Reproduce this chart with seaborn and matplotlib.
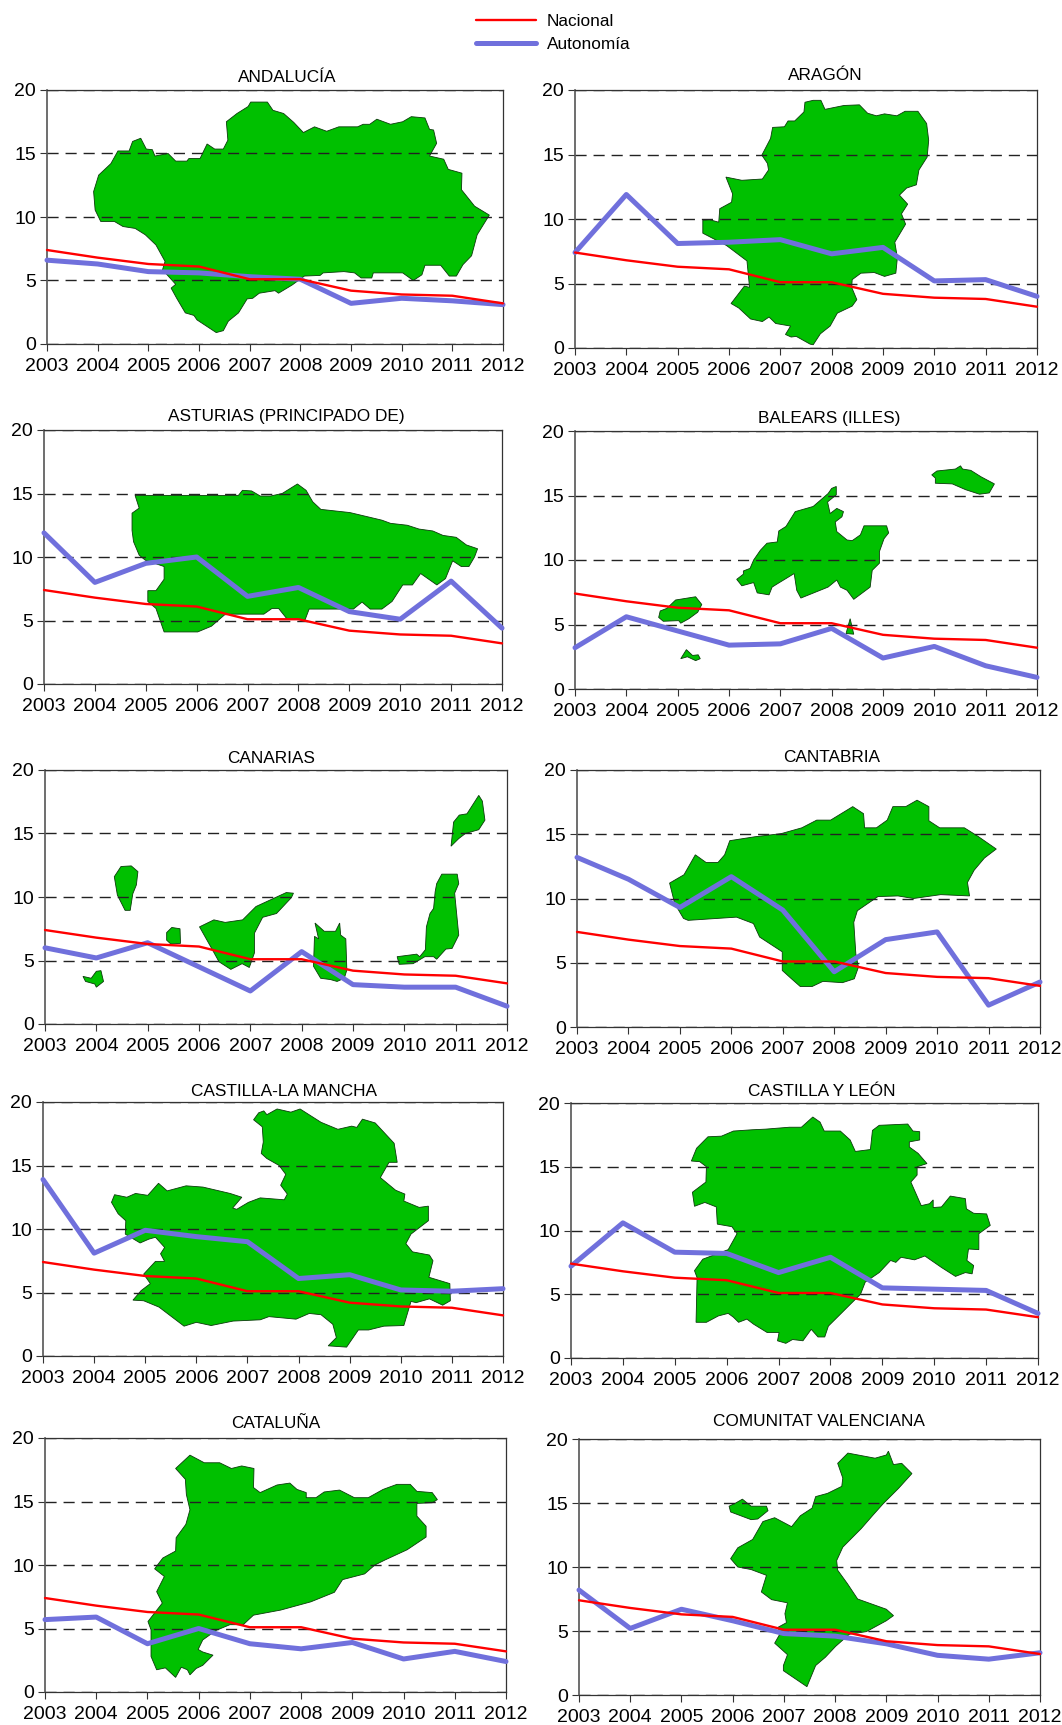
import matplotlib
matplotlib.use('Agg')
import matplotlib.pyplot as plt
from matplotlib.lines import Line2D
import seaborn as sns

sns.set_theme(style="white")
plt.rcParams['font.family'] = ['Liberation Sans', 'DejaVu Sans']

YEARS = [2003, 2004, 2005, 2006, 2007, 2008, 2009, 2010, 2011, 2012]
NACIONAL = [7.4, 6.8, 6.3, 6.1, 5.1, 5.1, 4.2, 3.9, 3.8, 3.2]

AND_VALUES = [6.6, 6.3, 5.7, 5.6, 5.3, 5.1, 3.2, 3.6, 3.4, 3.1]
ARA_VALUES = [7.4, 11.9, 8.1, 8.2, 8.4, 7.3, 7.8, 5.2, 5.3, 4.0]
AST_VALUES = [11.9, 8.0, 9.5, 10.0, 6.9, 7.6, 5.7, 5.1, 8.1, 4.4]
BAL_VALUES = [3.2, 5.6, 4.5, 3.4, 3.5, 4.7, 2.4, 3.3, 1.8, 0.9]
CAN_VALUES = [6.0, 5.2, 6.4, 4.5, 2.6, 5.7, 3.1, 2.9, 2.9, 1.4]
CNT_VALUES = [13.2, 11.5, 9.3, 11.7, 9.1, 4.3, 6.8, 7.4, 1.7, 3.5]
CLM_VALUES = [13.9, 8.1, 9.9, 9.4, 9.0, 6.1, 6.4, 5.2, 5.1, 5.3]
CYL_VALUES = [7.2, 10.6, 8.3, 8.2, 6.7, 7.9, 5.5, 5.4, 5.3, 3.5]
CAT_VALUES = [5.7, 5.9, 3.8, 5.0, 3.8, 3.4, 3.9, 2.6, 3.2, 2.4]
VAL_VALUES = [8.2, 5.2, 6.7, 5.8, 4.8, 4.6, 4.0, 3.1, 2.8, 3.3]

# map outlines, as (year, value) pairs on each panel's own axes
AND_MAP = [[(2003.92,12.0),(2004.02,13.3),(2004.26,14.2),(2004.40,15.2),(2004.62,15.2),(2004.69,15.95),(2004.85,16.2),(2004.96,15.35),(2005.08,15.3),(2005.13,14.8),(2005.39,15.0),(2005.54,14.4),(2005.76,14.4),(2005.8,14.6),(2006.02,14.6),(2006.16,15.75),(2006.31,15.35),(2006.48,15.35),(2006.57,16.05),(2006.54,17.5),(2006.75,18.15),(2006.97,18.7),(2007.02,19.05),(2007.35,19.05),(2007.46,18.4),(2007.67,18.15),(2007.87,17.45),(2008.06,16.65),(2008.28,17.1),(2008.52,16.75),(2008.76,17.1),(2009.13,17.1),(2009.24,17.3),(2009.37,17.3),(2009.51,17.7),(2009.78,17.3),(2010.02,17.5),(2010.19,17.9),(2010.46,17.8),(2010.55,16.9),(2010.63,16.85),(2010.69,15.8),(2010.55,14.8),(2010.83,14.55),(2010.92,13.75),(2011.19,13.45),(2011.18,12.15),(2011.44,10.85),(2011.73,10.15),(2011.49,8.6),(2011.38,6.95),(2011.21,6.25),(2011.08,5.35),(2010.94,5.35),(2010.77,6.2),(2010.46,6.2),(2010.4,5.45),(2010.23,5.0),(2010.02,5.6),(2009.44,5.6),(2009.41,5.2),(2009.2,5.2),(2009.07,5.6),(2008.86,5.7),(2008.45,5.6),(2008.39,5.4),(2008.08,5.35),(2007.84,4.65),(2007.57,4.0),(2007.5,4.2),(2007.19,4.0),(2007.06,3.6),(2006.95,3.55),(2006.78,2.45),(2006.58,1.8),(2006.48,1.05),(2006.34,0.9),(2005.96,1.9),(2005.9,2.25),(2005.73,2.45),(2005.56,3.6),(2005.45,4.4),(2005.54,4.7),(2005.28,5.85),(2005.33,6.5),(2005.15,7.8),(2004.94,8.6),(2004.74,9.1),(2004.5,9.25),(2004.33,9.65),(2004.06,9.65),(2003.95,10.55)]]

ARA_MAP = [[(2005.49,9.9),(2005.62,9.95),(2005.8,9.75),(2005.82,10.8),(2006.05,11.3),(2006.07,11.95),(2005.94,13.25),(2006.25,13.0),(2006.65,13.1),(2006.77,13.8),(2006.75,14.3),(2006.64,14.95),(2006.81,16.25),(2006.85,17.1),(2007.08,17.15),(2007.15,17.6),(2007.28,17.6),(2007.46,18.3),(2007.48,19.05),(2007.64,19.2),(2007.79,19.2),(2007.87,18.5),(2008.24,18.8),(2008.54,18.85),(2008.7,18.2),(2008.87,18.0),(2009.03,18.15),(2009.27,18.0),(2009.43,18.35),(2009.68,18.35),(2009.85,17.4),(2009.89,16.1),(2009.86,14.8),(2009.7,13.8),(2009.65,12.65),(2009.46,12.4),(2009.32,11.85),(2009.48,11.15),(2009.36,10.4),(2009.44,9.6),(2009.23,8.2),(2009.28,7.0),(2009.25,5.8),(2009.03,5.55),(2008.83,5.85),(2008.57,5.8),(2008.4,5.3),(2008.39,4.7),(2008.49,3.75),(2008.4,3.25),(2008.11,2.7),(2007.97,1.7),(2007.78,1.1),(2007.64,0.25),(2007.58,0.3),(2007.31,0.9),(2007.21,0.85),(2007.1,1.05),(2007.2,1.7),(2006.91,1.9),(2006.78,2.4),(2006.65,2.05),(2006.42,2.25),(2006.19,3.1),(2006.04,3.45),(2006.3,4.8),(2006.4,4.7),(2006.35,6.75),(2005.95,7.95),(2005.49,8.9)]]

AST_MAP = [[(2004.79,14.85),(2006.82,14.85),(2006.9,15.25),(2007.08,15.2),(2007.25,14.8),(2007.45,14.8),(2007.68,15.0),(2007.98,15.75),(2008.15,15.25),(2008.28,14.35),(2008.44,13.75),(2009.01,13.5),(2009.64,12.9),(2009.81,12.65),(2010.14,12.5),(2010.37,12.2),(2010.64,12.05),(2010.84,11.7),(2011.1,11.55),(2011.3,10.95),(2011.52,10.65),(2011.46,10.0),(2011.35,9.25),(2011.2,9.25),(2011.03,9.7),(2010.89,8.3),(2010.72,7.8),(2010.4,8.7),(2010.24,7.8),(2010.05,7.8),(2009.84,6.5),(2009.64,5.9),(2009.41,5.9),(2009.25,6.45),(2009.08,5.9),(2008.21,5.9),(2008.13,5.05),(2007.78,5.1),(2007.61,5.95),(2007.48,5.95),(2007.32,5.5),(2006.72,5.5),(2006.55,5.45),(2006.29,4.55),(2006.02,4.1),(2005.36,4.1),(2005.2,5.95),(2005.04,6.5),(2005.04,7.35),(2005.2,7.35),(2005.36,8.25),(2005.36,9.25),(2004.99,9.75),(2004.87,10.15),(2004.76,11.2),(2004.73,12.1),(2004.73,13.45),(2004.87,13.85)]]

BAL_MAP = [
    [(2006.15,8.5),(2006.28,8.9),(2006.28,9.15),(2006.41,9.35),(2006.48,10.0),(2006.61,10.75),(2006.74,11.3),(2006.94,11.4),(2006.97,12.25),(2007.11,12.6),(2007.29,13.75),(2007.64,14.15),(2007.93,15.15),(2008.0,15.55),(2008.09,15.7),(2008.09,15.05),(2007.92,14.5),(2007.97,13.6),(2008.1,14.0),(2008.23,13.75),(2008.2,13.35),(2008.07,12.95),(2008.1,12.2),(2008.3,11.55),(2008.4,11.5),(2008.56,11.95),(2008.63,12.65),(2009.07,12.65),(2009.11,12.1),(2009.02,11.65),(2008.93,10.65),(2008.93,9.75),(2008.79,9.2),(2008.75,7.9),(2008.43,6.95),(2008.3,7.65),(2008.17,7.9),(2008.1,8.45),(2007.93,7.9),(2007.4,7.05),(2007.32,7.65),(2007.27,8.95),(2006.94,8.15),(2006.84,7.9),(2006.78,7.3),(2006.55,7.45),(2006.48,8.25),(2006.25,8.0)],
    [(2009.95,16.6),(2010.05,16.9),(2010.41,17.05),(2010.51,17.3),(2010.55,17.05),(2010.71,16.95),(2010.91,16.45),(2011.17,15.9),(2011.07,15.2),(2010.88,15.1),(2010.61,15.45),(2010.35,15.9),(2010.02,15.95),(2010.02,16.35)],
    [(2004.63,5.55),(2004.66,6.05),(2004.79,6.25),(2004.96,6.9),(2005.35,7.15),(2005.47,6.55),(2005.39,5.95),(2005.22,5.45),(2005.06,5.1),(2005.02,5.3),(2004.72,5.25)],
    [(2005.06,2.35),(2005.17,3.05),(2005.29,2.6),(2005.4,2.65),(2005.44,2.35),(2005.35,2.2),(2005.19,2.5)],
    [(2008.28,4.3),(2008.36,5.45),(2008.43,4.25)],
]

CAN_MAP = [
    [(2010.91,14.0),(2010.96,15.9),(2011.07,16.45),(2011.22,16.55),(2011.45,18.0),(2011.52,17.55),(2011.57,16.05),(2011.45,15.3),(2011.19,15.0),(2011.06,14.6)],
    [(2004.35,11.6),(2004.48,12.4),(2004.68,12.45),(2004.81,12.0),(2004.78,10.95),(2004.71,10.25),(2004.66,8.95),(2004.56,8.95),(2004.41,10.15)],
    [(2006.01,7.65),(2006.29,8.2),(2006.51,8.0),(2006.85,8.2),(2007.11,9.25),(2007.7,10.35),(2007.84,10.3),(2007.8,9.95),(2007.51,8.7),(2007.24,8.4),(2007.08,7.15),(2007.08,5.6),(2006.98,4.45),(2006.84,4.75),(2006.62,4.3),(2006.39,4.9),(2006.26,5.85)],
    [(2005.37,7.2),(2005.47,7.6),(2005.63,7.5),(2005.64,6.35),(2005.45,6.3),(2005.37,6.6)],
    [(2003.74,3.75),(2003.9,3.6),(2004.0,4.15),(2004.09,4.2),(2004.14,3.35),(2004.0,2.9),(2003.97,3.15),(2003.79,3.35)],
    [(2008.26,7.95),(2008.44,7.3),(2008.66,7.3),(2008.74,7.95),(2008.76,7.0),(2008.86,6.7),(2008.88,4.25),(2008.83,3.6),(2008.69,3.35),(2008.56,3.5),(2008.37,3.6),(2008.23,4.55),(2008.25,6.9),(2008.33,6.7)],
    [(2009.86,5.3),(2010.24,5.5),(2010.3,5.3),(2010.41,5.85),(2010.43,7.65),(2010.5,8.7),(2010.57,9.1),(2010.6,10.4),(2010.63,11.05),(2010.73,11.8),(2011.03,11.8),(2011.06,11.05),(2010.98,10.3),(2011.06,7.0),(2010.93,5.95),(2010.81,5.9),(2010.63,5.1),(2010.57,5.3),(2010.4,5.3),(2010.17,4.75),(2009.9,4.7)],
]

CNT_MAP = [[(2004.8,11.2),(2005.08,11.85),(2005.3,13.4),(2005.51,12.8),(2005.74,12.8),(2005.87,13.4),(2005.97,14.5),(2006.45,14.8),(2006.97,15.05),(2007.37,15.5),(2007.66,16.1),(2007.93,16.1),(2008.36,17.15),(2008.57,16.6),(2008.59,15.5),(2008.82,15.5),(2009.03,16.1),(2009.14,17.15),(2009.39,17.15),(2009.61,17.65),(2009.84,17.15),(2009.84,16.05),(2010.05,15.5),(2010.53,15.5),(2010.79,14.85),(2011.15,13.85),(2010.92,13.15),(2010.72,12.2),(2010.59,11.25),(2010.63,10.2),(2010.07,10.3),(2009.54,10.0),(2009.24,10.2),(2008.85,10.15),(2008.45,9.05),(2008.38,8.15),(2008.42,5.7),(2008.47,4.65),(2008.39,3.75),(2008.16,3.45),(2007.78,3.55),(2007.57,3.15),(2007.34,3.15),(2007.17,3.75),(2006.99,4.4),(2006.99,5.85),(2006.55,7.0),(2006.43,8.05),(2006.1,8.55),(2005.16,8.3),(2005.07,8.45),(2004.9,9.6)]]

CLM_MAP = [[(2007.12,18.6),(2007.22,19.15),(2007.32,19.3),(2007.38,19.0),(2007.58,19.45),(2007.85,19.2),(2008.03,19.45),(2008.44,18.4),(2008.77,17.85),(2009.04,18.1),(2009.14,18.0),(2009.25,18.65),(2009.5,18.35),(2009.87,16.75),(2009.93,15.25),(2009.77,15.25),(2009.6,14.05),(2009.9,13.05),(2010.08,12.75),(2010.06,12.2),(2010.36,11.7),(2010.54,11.8),(2010.54,10.65),(2010.2,9.6),(2010.1,8.85),(2010.23,8.2),(2010.56,7.95),(2010.63,7.5),(2010.55,6.2),(2010.96,5.7),(2010.97,4.35),(2010.82,4.0),(2010.56,4.5),(2010.3,4.2),(2010.2,4.3),(2010.06,2.4),(2009.67,2.35),(2009.37,2.05),(2009.17,2.05),(2008.94,0.7),(2008.58,0.8),(2008.74,1.45),(2008.67,2.5),(2008.44,3.25),(2008.21,3.35),(2007.95,2.9),(2007.42,3.1),(2007.25,2.85),(2006.72,2.75),(2006.29,2.4),(2006.0,2.65),(2005.76,2.35),(2005.27,3.85),(2004.97,4.35),(2004.76,4.4),(2004.92,5.15),(2005.1,5.7),(2004.97,6.45),(2005.2,7.45),(2005.38,7.45),(2005.3,8.05),(2005.38,8.55),(2005.2,9.35),(2005.07,9.2),(2004.9,8.9),(2004.61,9.6),(2004.62,10.65),(2004.47,11.2),(2004.34,12.1),(2004.4,12.7),(2004.64,12.5),(2004.81,12.8),(2005.05,12.65),(2005.26,13.6),(2005.43,13.0),(2005.8,13.4),(2006.13,13.3),(2006.66,12.8),(2006.89,12.5),(2006.71,11.65),(2006.79,11.55),(2007.02,12.1),(2007.25,12.45),(2007.72,12.3),(2007.78,12.75),(2007.65,13.45),(2007.75,14.3),(2007.62,15.0),(2007.38,15.55),(2007.27,15.95),(2007.31,16.85),(2007.29,18.05)]]

CYL_MAP = [[(2005.32,15.45),(2005.42,16.45),(2005.64,17.35),(2005.9,17.4),(2006.13,17.8),(2006.49,17.9),(2006.75,17.95),(2007.21,18.1),(2007.44,18.1),(2007.66,18.9),(2007.8,18.5),(2007.88,17.8),(2008.19,17.8),(2008.38,17.1),(2008.48,16.2),(2008.77,16.35),(2008.81,17.85),(2008.94,18.25),(2009.49,18.35),(2009.59,17.8),(2009.72,17.75),(2009.72,17.1),(2009.52,16.95),(2009.52,16.55),(2009.69,16.05),(2009.86,15.25),(2009.67,15.0),(2009.67,14.35),(2009.55,13.8),(2009.75,11.95),(2009.91,12.1),(2009.98,12.4),(2009.98,11.8),(2010.14,11.85),(2010.31,12.7),(2010.6,12.5),(2010.62,11.7),(2010.76,11.35),(2011.01,11.3),(2011.08,10.4),(2010.86,9.75),(2010.86,8.5),(2010.66,8.55),(2010.63,7.65),(2010.76,7.25),(2010.73,6.6),(2010.6,6.7),(2010.41,6.4),(2010.14,7.1),(2009.82,8.0),(2009.62,7.7),(2009.36,7.9),(2009.26,7.5),(2009.16,7.65),(2008.94,6.7),(2008.67,5.95),(2008.58,5.0),(2008.38,4.2),(2008.22,3.55),(2007.96,2.5),(2007.89,1.65),(2007.76,1.65),(2007.63,2.25),(2007.47,1.35),(2007.27,1.45),(2007.14,1.15),(2006.98,1.35),(2007.01,2.0),(2006.78,2.0),(2006.52,2.65),(2006.39,3.05),(2006.23,2.8),(2006.13,3.2),(2006.03,3.5),(2005.84,3.3),(2005.61,2.8),(2005.41,2.8),(2005.43,6.3),(2005.38,6.85),(2005.54,7.75),(2006.03,8.5),(2006.2,9.75),(2006.1,10.3),(2005.82,10.5),(2005.8,11.85),(2005.58,12.2),(2005.38,11.9),(2005.34,13.0),(2005.6,13.8),(2005.61,15.0),(2005.48,15.4)]]

CAT_MAP = [[(2005.55,17.6),(2005.83,18.65),(2006.11,18.05),(2006.41,18.05),(2006.64,17.6),(2006.84,17.8),(2007.08,17.6),(2007.07,16.1),(2007.2,15.7),(2007.53,16.3),(2007.78,16.45),(2007.92,15.95),(2008.1,15.7),(2008.1,15.3),(2008.29,15.3),(2008.45,15.75),(2008.75,15.9),(2009.04,15.3),(2009.31,15.3),(2009.6,15.95),(2009.87,16.35),(2010.13,16.35),(2010.26,15.8),(2010.56,15.7),(2010.66,15.15),(2010.56,14.9),(2010.26,14.85),(2010.26,13.85),(2010.44,13.05),(2010.44,12.2),(2010.07,11.2),(2009.64,10.4),(2009.44,10.0),(2009.24,9.3),(2008.81,8.85),(2008.65,7.85),(2008.19,7.1),(2007.6,6.45),(2007.07,6.05),(2006.87,5.3),(2006.61,5.3),(2006.34,4.85),(2006.08,4.1),(2005.99,3.35),(2006.08,3.15),(2006.28,2.9),(2006.08,2.1),(2005.95,1.85),(2005.83,1.35),(2005.78,1.75),(2005.66,1.95),(2005.55,1.15),(2005.35,1.9),(2005.18,1.75),(2005.07,2.8),(2005.07,4.9),(2005.01,5.55),(2005.29,7.0),(2005.18,7.9),(2005.33,9.1),(2005.14,9.7),(2005.3,10.55),(2005.55,11.1),(2005.56,12.15),(2005.75,13.2),(2005.83,14.35),(2005.76,15.55),(2005.74,16.75)]]

VAL_MAP = [
    [(2005.96,10.65),(2006.1,11.5),(2006.39,12.15),(2006.59,13.55),(2006.82,13.85),(2007.15,13.15),(2007.32,14.0),(2007.55,14.6),(2007.62,15.5),(2007.85,15.75),(2008.13,16.3),(2008.15,16.95),(2008.05,18.1),(2008.25,18.9),(2008.78,18.5),(2009.0,18.75),(2009.04,19.05),(2009.14,18.0),(2009.3,18.1),(2009.5,17.3),(2009.24,16.15),(2008.94,14.95),(2008.75,14.1),(2008.51,13.0),(2008.15,11.55),(2008.03,10.5),(2008.05,9.75),(2008.24,8.7),(2008.44,7.5),(2009.0,6.7),(2009.14,6.2),(2009.0,5.8),(2008.61,4.95),(2008.28,4.75),(2008.01,3.8),(2007.81,2.95),(2007.62,2.3),(2007.45,0.65),(2006.99,1.9),(2006.99,2.3),(2007.07,3.15),(2006.82,4.05),(2006.92,4.75),(2006.89,5.3),(2007.05,5.65),(2007.02,6.35),(2007.07,7.2),(2006.76,7.45),(2006.56,8.05),(2006.66,9.35),(2006.36,9.8),(2006.1,10.0)],
    [(2005.93,14.75),(2006.06,15.0),(2006.19,15.3),(2006.36,14.75),(2006.66,14.75),(2006.69,14.4),(2006.49,13.75),(2006.36,13.7),(2005.96,14.3)],
]

# name, values, map, axes box (left, right, top, bottom in px), title centre (x, y in px)
panels = [
    ('ANDALUCÍA', AND_VALUES, AND_MAP, (47, 503, 90, 344), (287, 78)),
    ('ARAGÓN', ARA_VALUES, ARA_MAP, (575, 1037, 90, 348), (825, 75)),
    ('ASTURIAS (PRINCIPADO DE)', AST_VALUES, AST_MAP, (44, 502, 430, 684), (286, 417)),
    ('BALEARS (ILLES)', BAL_VALUES, BAL_MAP, (575, 1037, 431, 689), (829, 418)),
    ('CANARIAS', CAN_VALUES, CAN_MAP, (45, 507, 770, 1024), (271, 758)),
    ('CANTABRIA', CNT_VALUES, CNT_MAP, (577, 1040, 770, 1027), (832, 757)),
    ('CASTILLA-LA MANCHA', CLM_VALUES, CLM_MAP, (43, 503, 1102, 1356), (284, 1091)),
    ('CASTILLA Y LEÓN', CYL_VALUES, CYL_MAP, (571, 1038, 1103, 1358), (822, 1091)),
    ('CATALUÑA', CAT_VALUES, CAT_MAP, (45, 506, 1438, 1692), (276, 1424)),
    ('COMUNITAT VALENCIANA', VAL_VALUES, VAL_MAP, (579, 1040, 1439, 1695), (819, 1422)),
]

W, H = 1062, 1725
GREEN = '#00C000'
BLUE = '#7070DC'
RED = '#FF0000'

fig = plt.figure(figsize=(W / 100, H / 100), dpi=100)

for name, values, outlines, box, title_pos in panels:
    left, right, top, bottom = box
    ax = fig.add_axes([left / W, 1 - bottom / H, (right - left) / W, (bottom - top) / H])
    for outline in outlines:
        ax.fill([p[0] for p in outline], [p[1] for p in outline],
                facecolor=GREEN, edgecolor='#0A3A0A', linewidth=0.6, zorder=1)
    for v in [0, 5, 10, 15, 20]:
        ax.axhline(v, color='#222222', linewidth=1.0, dashes=(8, 5), zorder=2)
    sns.lineplot(x=YEARS, y=values, ax=ax, color=BLUE, linewidth=3.6, errorbar=None,
                 clip_on=False, zorder=3, solid_capstyle='round')
    sns.lineplot(x=YEARS, y=NACIONAL, ax=ax, color=RED, linewidth=1.7, errorbar=None,
                 clip_on=False, zorder=4)
    ax.set_xlim(2003, 2012)
    ax.set_ylim(0, 20)
    ax.set_xticks(YEARS)
    ax.set_yticks([0, 5, 10, 15, 20])
    ax.tick_params(axis='x', direction='out', length=5, width=0.8, color='#333333',
                   labelsize=14, labelcolor='black', pad=5, bottom=True)
    ax.tick_params(axis='y', direction='out', length=5, width=0.8, color='#333333',
                   labelsize=14, labelcolor='black', pad=3, left=True)
    for s in ax.spines.values():
        s.set_visible(True)
        s.set_color('#333333')
        s.set_linewidth(0.9)
    ax.spines['left'].set_color('#555555')
    ax.spines['left'].set_linewidth(1.2)
    fig.text(title_pos[0] / W, 1 - title_pos[1] / H, name, fontsize=12.4,
             ha='center', va='center', color='black')

handles = [Line2D([], [], color=RED, linewidth=1.7),
           Line2D([], [], color=BLUE, linewidth=3.6, solid_capstyle='round')]
fig.legend(handles, ['Nacional', 'Autonomía'], loc='center', bbox_to_anchor=(553 / W, 1 - 33 / H),
           frameon=False, fontsize=12.4, handlelength=3.5, handletextpad=0.6, labelspacing=0.45,
           labelcolor='black')

plt.savefig('out.png', dpi=100)
plt.close()
